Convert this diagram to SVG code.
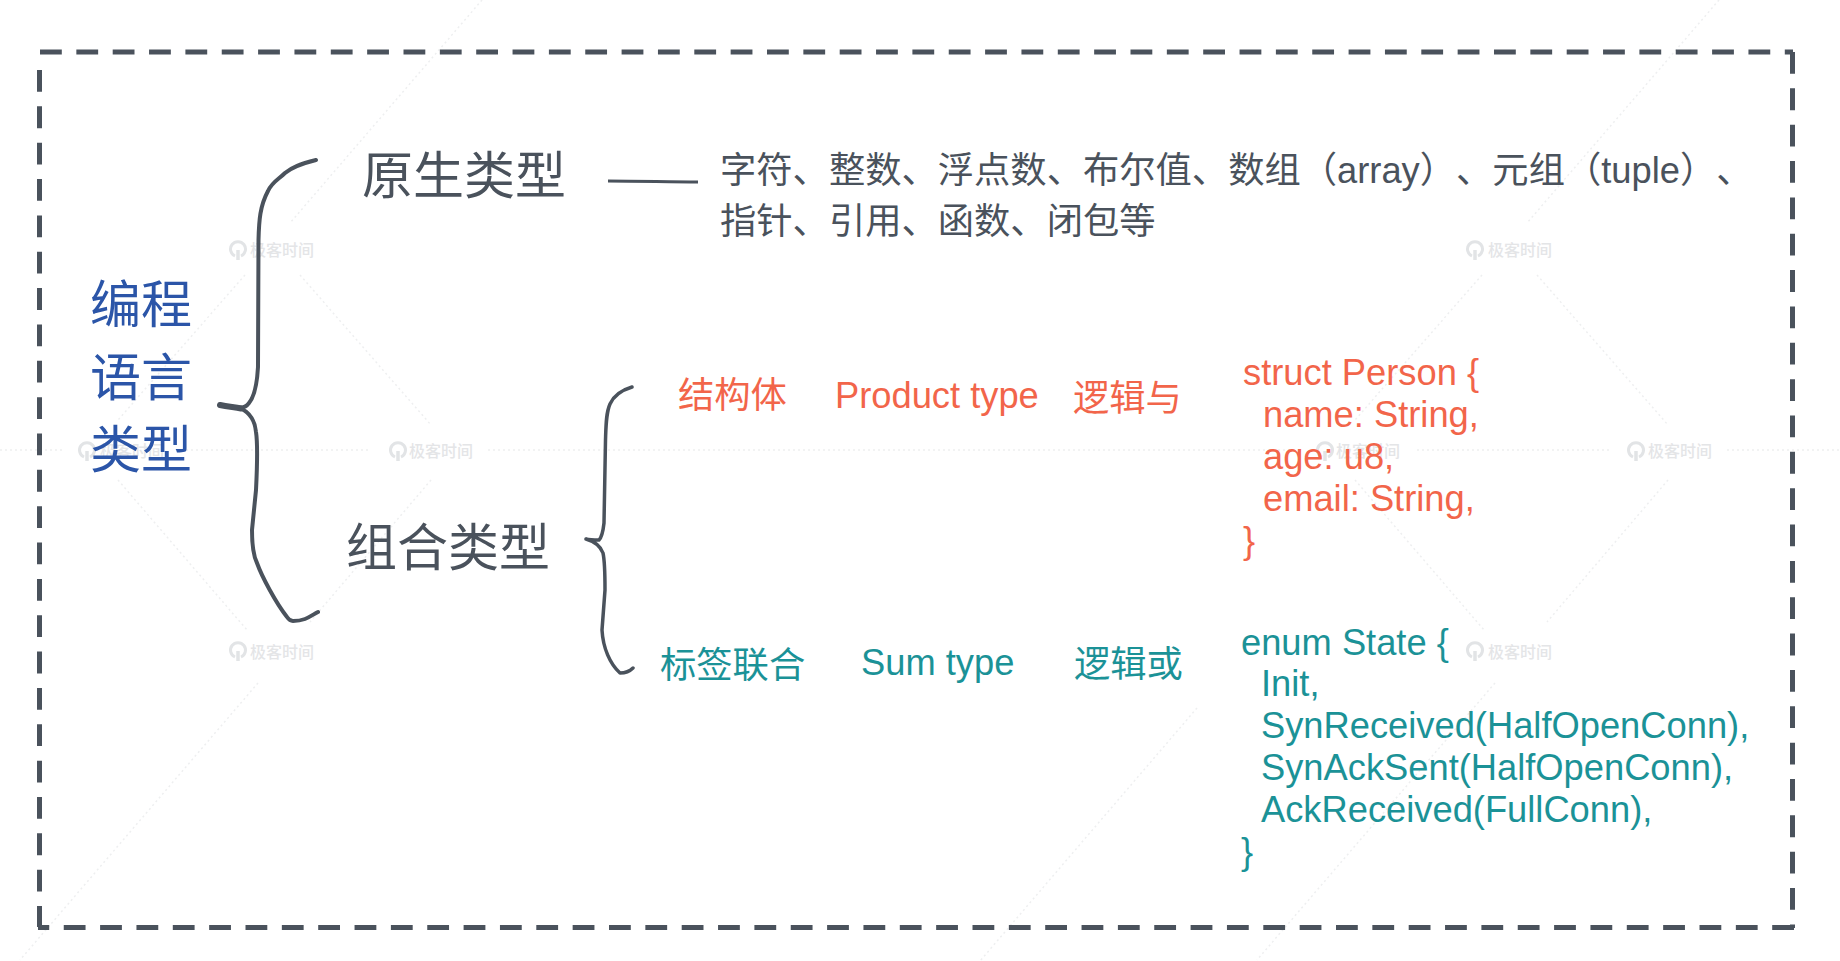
<svg xmlns="http://www.w3.org/2000/svg" width="1840" height="961" viewBox="0 0 1840 961">
<style>
text{font-family:"Liberation Sans","Noto Sans CJK SC",sans-serif;text-spacing-trim:space-all}
.cjk{font-family:"Noto Sans CJK SC",sans-serif}
.g{fill:#4a525c}.b{fill:#2b55a8}.r{fill:#f2654a}.t{fill:#1b9297}
.s36{font-size:36.3px}.s50{font-size:51px}
.wm{font-family:"Noto Sans CJK SC",sans-serif;font-size:16px;font-weight:500;fill:#e4e5e7}
.wl{stroke:#eeeff0;stroke-width:1.5;stroke-dasharray:2 3;fill:none}
.brace{stroke:#4a525c;stroke-width:4;fill:none;stroke-linecap:round;stroke-linejoin:round}
.dash{stroke:#4a525c;stroke-width:5;fill:none;stroke-dasharray:21.8 14.55}
</style>
<defs>
<g id="logo"><path d="M-3 7A7.500 7.500 0 1 1 3 7" fill="none" stroke="#e2e4e6" stroke-width="3"/><path d="M0 1V11" fill="none" stroke="#e2e4e6" stroke-width="3.500"/></g>
<g id="tile"><path class="wl" d="M482 0L290 223M245 275L118 420M300 275L431 425M118 480L247 630M431 480L310 622M258 683L20 960"/></g>
</defs>
<rect width="1840" height="961" fill="#fff"/>
<g id="watermark">
<path class="wl" d="M0 450H63M186 450H371M488 450H1300M1417 450H1610M1727 450H1840M1197 708L980 961"/>
<use href="#tile"/><use href="#tile" x="1237"/>
<use href="#logo" x="238" y="249"/><text class="wm" x="250" y="256">极客时间</text>
<use href="#logo" x="1475" y="249"/><text class="wm" x="1488" y="256">极客时间</text>
<use href="#logo" x="87" y="450"/><text class="wm" x="100" y="457">极客时间</text>
<use href="#logo" x="398" y="450"/><text class="wm" x="409" y="457">极客时间</text>
<use href="#logo" x="1325" y="450"/><text class="wm" x="1336" y="457">极客时间</text>
<use href="#logo" x="1636" y="450"/><text class="wm" x="1648" y="457">极客时间</text>
<use href="#logo" x="238" y="650"/><text class="wm" x="250" y="658">极客时间</text>
<use href="#logo" x="1475" y="650"/><text class="wm" x="1488" y="658">极客时间</text>
</g>
<g id="frame">
<path class="dash" d="M40 52H1793"/>
<path class="dash" d="M39.500 70V927"/>
<path class="dash" d="M1792.500 52V928"/>
<path class="dash" d="M1794 927.500H38"/>
</g>
<g id="connectors">
<path class="brace" d="M316 160C300 164 292 167 285 173C279 179 272 182 268 191C260 206 259 220 258.500 240L258 367C257 385 254 397 249 403C246 407 243 408 240 407.500C232 407 226 406 220 405"/>
<path class="brace" style="stroke-width:6" d="M220 405C228 407 234 407 241 408.500"/>
<path class="brace" d="M241 408.500C250 413 255 420 256 432C258 445 257 470 256 490L252 530C252 545 253 555 257 563C262 577 276 603 287 617C289 620 291 621 293 621C298 621 301 620.500 305 619C310 617 314 614 318 612"/>
<path class="brace" style="stroke-width:3.500" d="M632 387C622 390 614 395 610 404C606 413 606 425 605.500 440L604 523C603 532 602 537 599 540C595 540 590 540 586 539C593 541 600 545 603 553C605 562 605 575 605 590L602 630C603 648 610 664 620 673C626 673 630 671 633 668"/>
<path id="line-primitive" d="M608 181C640 181 670 182 698 182" fill="none" stroke="#4a525c" stroke-width="3"/>
</g>
<g id="node-root" class="cjk b s50">
<text x="90" y="323">编程</text><text x="90" y="396">语言</text><text x="90" y="468">类型</text>
</g>
<g id="node-primitive" class="g"><text class="cjk s50" x="362" y="194">原生类型</text></g>
<g id="node-composite" class="g"><text class="cjk s50" x="346" y="566">组合类型</text></g>
<g id="node-primitive-list" class="g s36">
<text x="720" y="183">字符、整数、浮点数、布尔值、数组（array）、元组（tuple）、</text>
<text x="720" y="234">指针、引用、函数、闭包等</text>
</g>
<g id="node-struct" class="r s36">
<text x="678" y="408">结构体</text><text x="835" y="408">Product type</text><text x="1073" y="411">逻辑与</text>
</g>
<g id="node-struct-code" class="r s36">
<text x="1243" y="384.500">struct Person {</text><text x="1263" y="426.500">name: String,</text><text x="1263" y="468.500">age: u8,</text><text x="1263" y="510.500">email: String,</text><text x="1243" y="552.500">}</text>
</g>
<g id="node-enum" class="t s36">
<text x="660" y="677.500">标签联合</text><text x="861" y="674.500">Sum type</text><text x="1074" y="676.500">逻辑或</text>
</g>
<g id="node-enum-code" class="t s36">
<text x="1241" y="654.500">enum State {</text><text x="1261" y="696">Init,</text><text x="1261" y="738">SynReceived(HalfOpenConn),</text><text x="1261" y="780">SynAckSent(HalfOpenConn),</text><text x="1261" y="822">AckReceived(FullConn),</text><text x="1241" y="864">}</text>
</g>
</svg>
